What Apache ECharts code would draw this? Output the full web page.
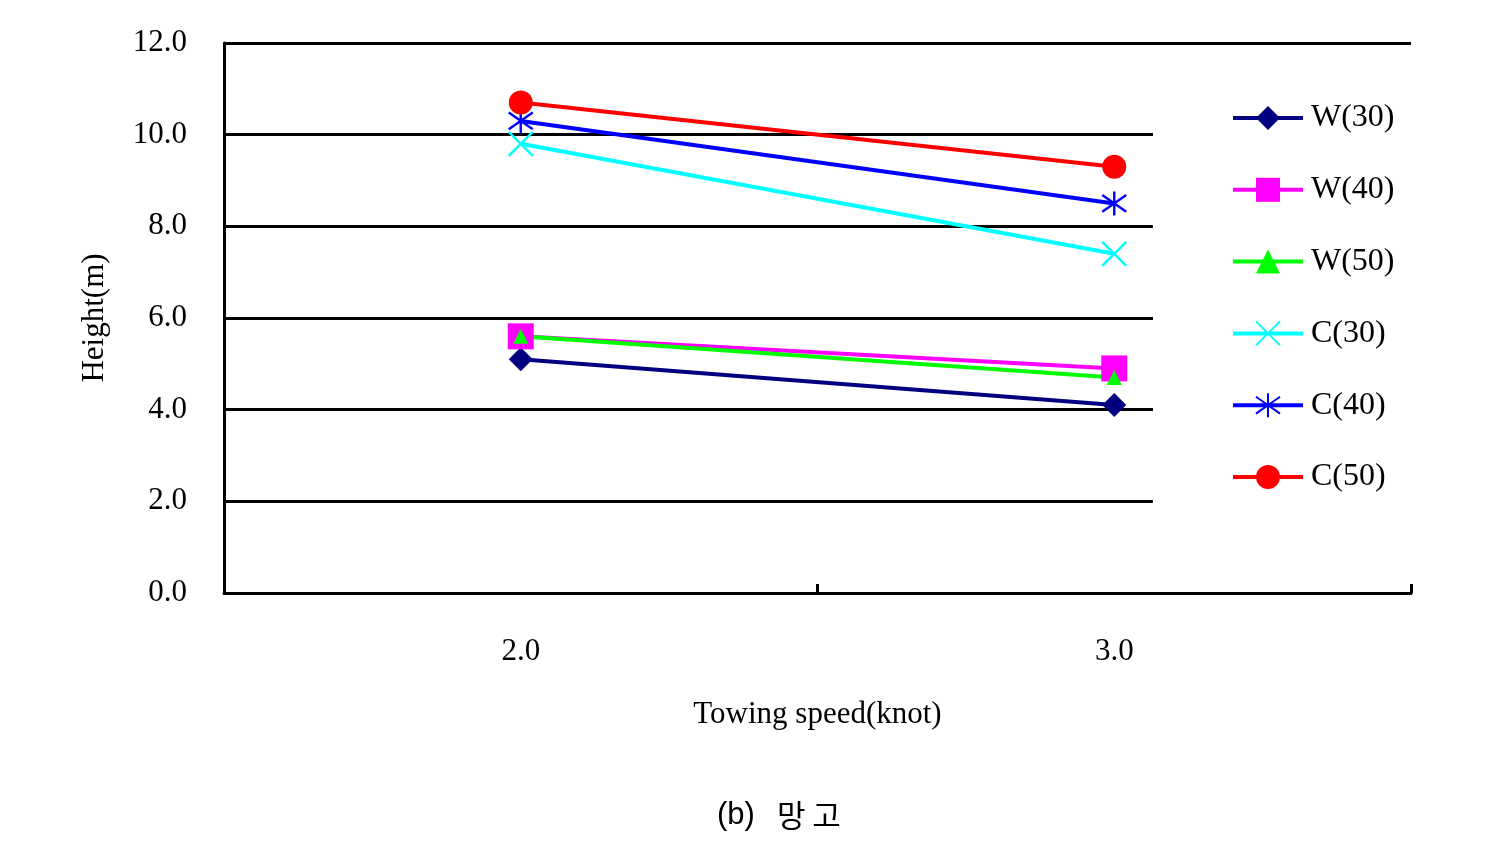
<!DOCTYPE html>
<html>
<head>
<meta charset="utf-8">
<script src="https://cdn.jsdelivr.net/npm/echarts@6/dist/echarts.min.js"></script>
<style>html,body{margin:0;padding:0;background:#fff;}#c{width:1503px;height:847px;}</style>
</head>
<body>
<div id="c"></div>
<script>
const categories = ['2.0', '3.0'];
const seriesNames = ['W(30)', 'W(40)', 'W(50)', 'C(30)', 'C(40)', 'C(50)'];
const w30 = [5.1, 4.1];
const w40 = [5.6, 4.9];
const w50 = [5.6, 4.7];
const c30 = [9.8, 7.4];
const c40 = [10.3, 8.5];
const c50 = [10.7, 9.3];
const yTicks = { min: 0, max: 12, interval: 2 };

const serif = 'Liberation Serif';
const XPATH = 'path://M0,0L10,10M10,0L0,10';
const STARPATH = 'path://M5,0L5,10M0,1.5L10,8.5M10,1.5L0,8.5';

function mk(name, data, color, symbol, size, stroke) {
  return {
    name: name, type: 'line', data: data,
    symbol: symbol, symbolSize: size,
    lineStyle: { color: color, width: 4 },
    itemStyle: stroke ? { color: color, borderColor: color, borderWidth: 2.4 } : { color: color, borderWidth: 0 },
    emphasis: { disabled: true }
  };
}

const chart = echarts.init(document.getElementById('c'), null, { renderer: 'canvas' });
chart.setOption({
  animation: false,
  backgroundColor: '#fff',
  title: {
    text: '{a|(b)}{g| }{b|망 고}',
    left: 712, top: 795,
    textStyle: {
      fontWeight: 'normal',
      rich: {
        a: { fontFamily: 'Liberation Sans', fontSize: 31, color: '#000', fontWeight: 'normal' },
        g: { width: 22, fontSize: 31 },
        b: { fontFamily: 'Noto Sans CJK KR', fontSize: 31, color: '#000', fontWeight: 'normal' }
      }
    }
  },
  grid: { left: 224, right: 92, top: 43, bottom: 254, containLabel: false },
  legend: {
    orient: 'vertical',
    left: 1153, top: 60,
    padding: [42, 40, 60, 78],
    backgroundColor: '#fff',
    itemWidth: 70, itemHeight: 30, itemGap: 39.8,
    data: seriesNames,
    lineStyle: { width: 4 },
    textStyle: { fontFamily: serif, fontSize: 32, color: '#000', lineHeight: 30, padding: [0, 0, 0, 3] },
    selectedMode: false
  },
  xAxis: {
    type: 'category', data: categories, boundaryGap: true,
    name: 'Towing speed(knot)', nameLocation: 'middle', nameGap: 106,
    nameTextStyle: { fontFamily: serif, fontSize: 31, color: '#000' },
    axisLine: { lineStyle: { color: '#000', width: 3 } },
    axisTick: { show: true, inside: true, length: 9, lineStyle: { color: '#000', width: 3 } },
    axisLabel: { fontFamily: serif, fontSize: 31, color: '#000', margin: 43 },
    splitLine: { show: false }
  },
  yAxis: {
    type: 'value', min: yTicks.min, max: yTicks.max, interval: yTicks.interval,
    name: 'Height(m)', nameLocation: 'middle', nameGap: 114,
    nameTextStyle: { fontFamily: serif, fontSize: 31, color: '#000' },
    axisLine: { show: true, lineStyle: { color: '#000', width: 3 } },
    axisTick: { show: false },
    axisLabel: { fontFamily: serif, fontSize: 31, color: '#000', margin: 37, formatter: v => v.toFixed(1) },
    splitLine: { show: true, lineStyle: { color: '#000', width: 3 } }
  },
  series: [
    mk('W(30)', w30, '#000080', 'diamond', 24),
    mk('W(40)', w40, '#FF00FF', 'rect', 26),
    mk('W(50)', w50, '#00FF00', 'triangle', 15),
    mk('C(30)', c30, '#00FFFF', XPATH, 24, true),
    mk('C(40)', c40, '#0000FF', STARPATH, 24, true),
    mk('C(50)', c50, '#FF0000', 'circle', 24)
  ]
});
</script>
</body>
</html>
